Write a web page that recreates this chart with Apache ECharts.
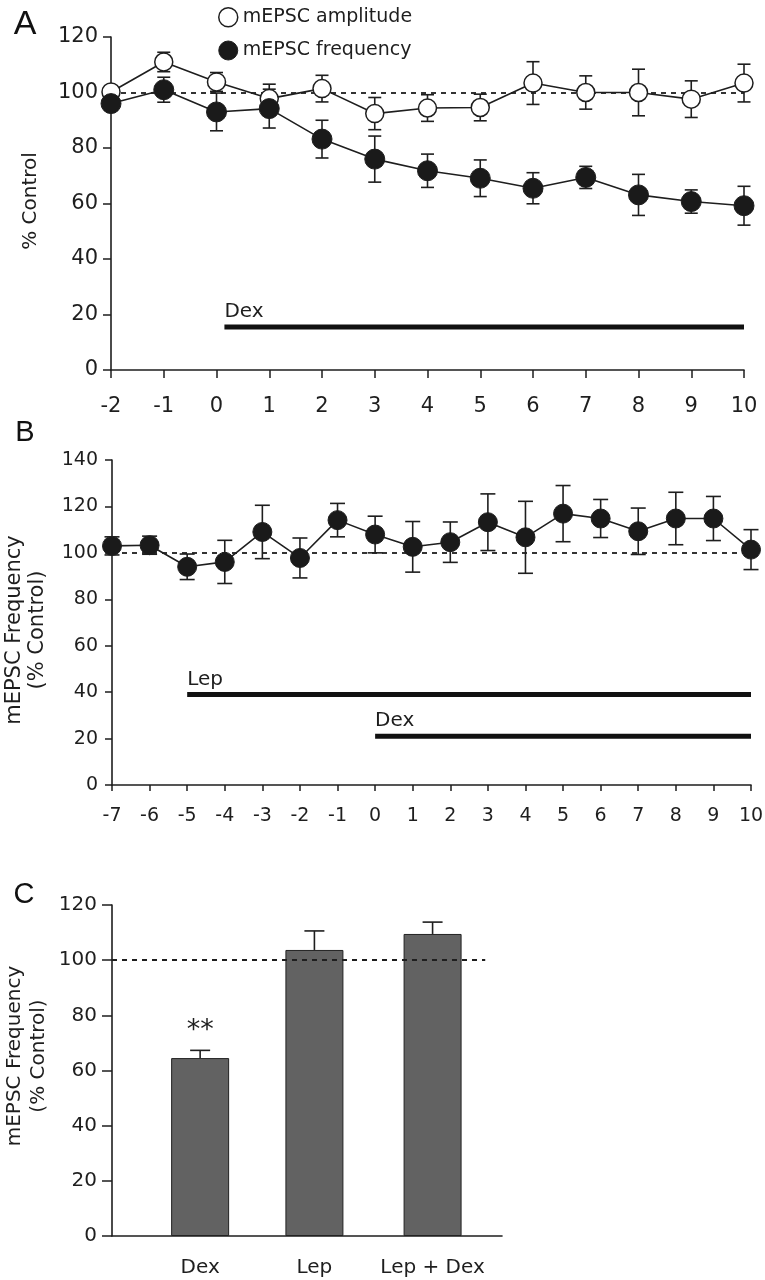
<!DOCTYPE html>
<html>
<head>
<meta charset="utf-8">
<script src="https://cdn.jsdelivr.net/npm/echarts@6/dist/echarts.min.js"></script>
<style>
  html, body { margin: 0; padding: 0; background: #fff; }
  #main { width: 765px; height: 1280px; }
</style>
</head>
<body>
<div id="main"></div>
<script>
// A: mEPSC amplitude / frequency (% control) vs time
const timeA = [-2, -1, 0, 1, 2, 3, 4, 5, 6, 7, 8, 9, 10];
const ampMean = [100.2, 111, 103.8, 97.8, 101.4, 92.4, 94.4, 94.6, 103.4, 100, 100, 97.6, 103.4];
const ampErr = [1, 3.5, 3.4, 5.2, 4.8, 5.8, 4.8, 4.8, 7.7, 6, 8.4, 6.6, 6.8];
const freqMean = [96, 101, 93, 94.2, 83.2, 76, 71.8, 69.1, 65.5, 69.4, 63.1, 60.7, 59.2];
const freqErr = [1, 4.5, 6.8, 7, 6.8, 8.3, 6, 6.6, 5.6, 4, 7.4, 4.2, 7];
const treatA = [{ name: 'Dex', start: 0.15, end: 10, level: 15.5 }];

// B: mEPSC frequency with leptin then dex
const timeB = [-7, -6, -5, -4, -3, -2, -1, 0, 1, 2, 3, 4, 5, 6, 7, 8, 9, 10];
const freqBMean = [103, 103.3, 94, 96.1, 109, 97.8, 114.1, 107.9, 102.6, 104.6, 113.2, 106.7, 116.9, 114.8, 109.3, 114.8, 114.8, 101.4];
const freqBErr = [3.9, 3.9, 5.5, 9.3, 11.5, 8.6, 7.2, 7.9, 10.9, 8.7, 12.2, 15.5, 12.1, 8.2, 10, 11.3, 9.5, 8.6];
const treatB = [
  { name: 'Lep', start: -5, end: 10, level: 39 },
  { name: 'Dex', start: 0, end: 10, level: 21 }
];

// C: summary bars
const groupsC = ['Dex', 'Lep', 'Lep + Dex'];
const groupPos = [2.26, 5.19, 8.22];
const barMean = [64.5, 103.7, 109.5];
const barErr = [2.8, 6.9, 4.3];
const sigMarks = ['**', '', ''];

const FONT = 'DejaVu Sans';
const INK = '#1e1e1e';

// 误差线
function errRender(capW, upOnly) {
  return function (params, api) {
    const x = api.value(0), y = api.value(1), e = api.value(2);
    const top = api.coord([x, y + e]);
    const bot = api.coord([x, upOnly ? y : y - e]);
    const style = { stroke: INK, lineWidth: 1.6 };
    const kids = [
      { type: 'line', shape: { x1: top[0], y1: top[1], x2: bot[0], y2: bot[1] }, style },
      { type: 'line', shape: { x1: top[0] - capW / 2, y1: top[1], x2: top[0] + capW / 2, y2: top[1] }, style }
    ];
    if (!upOnly) {
      kids.push({ type: 'line', shape: { x1: bot[0] - capW / 2, y1: bot[1], x2: bot[0] + capW / 2, y2: bot[1] }, style });
    }
    return { type: 'group', children: kids };
  };
}

// 给药时段横条
function treatRender(list) {
  return function (params, api) {
    const t = list[params.dataIndex];
    const p0 = api.coord([t.start, t.level]);
    const p1 = api.coord([t.end, t.level]);
    return {
      type: 'group', children: [
        { type: 'line', shape: { x1: p0[0], y1: p0[1], x2: p1[0], y2: p1[1] }, style: { stroke: '#111', lineWidth: 5 } },
        { type: 'text', x: p0[0], y: p0[1] - 5, style: { text: t.name, fontFamily: FONT, fontSize: 20, fill: INK, align: 'left', verticalAlign: 'bottom' } }
      ]
    };
  };
}

function xAx(gridIndex, min, max, fontSize, margin, tickLen) {
  return {
    gridIndex, type: 'value', min, max, interval: 1,
    axisLine: { show: true, onZero: false, lineStyle: { color: INK, width: 1.6 } },
    axisTick: { show: true, length: tickLen, lineStyle: { color: INK, width: 1.5 } },
    splitLine: { show: false },
    axisLabel: { fontFamily: FONT, fontSize, color: INK, margin }
  };
}
function yAx(gridIndex, max, fontSize, margin, tickLen) {
  return {
    gridIndex, type: 'value', min: 0, max, interval: 20,
    axisLine: { show: true, onZero: false, lineStyle: { color: INK, width: 1.6 } },
    axisTick: { show: true, length: tickLen, lineStyle: { color: INK, width: 1.5 } },
    splitLine: { show: false },
    axisLabel: { fontFamily: FONT, fontSize, color: INK, margin }
  };
}

const dashed = { color: INK, width: 1.8, type: [5, 5] };

const chart = echarts.init(document.getElementById('main'), null, { renderer: 'canvas' });
chart.setOption({
  backgroundColor: '#fff',
  animation: false,
  grid: [
    { left: 111, top: 37, width: 633, height: 333, containLabel: false, outerBoundsMode: 'none' },
    { left: 112, top: 460, width: 639, height: 325, containLabel: false, outerBoundsMode: 'none' },
    { left: 112, top: 905, width: 390, height: 331, containLabel: false, outerBoundsMode: 'none' }
  ],
  xAxis: [
    xAx(0, -2, 10, 21, 26, 8),
    xAx(1, -7, 10, 19, 22, 6),
    {
      gridIndex: 2, type: 'value', min: 0, max: 10,
      axisLine: { show: true, onZero: false, lineStyle: { color: INK, width: 1.6 } },
      axisTick: { show: false },
      splitLine: { show: false },
      axisLabel: {
        fontFamily: FONT, fontSize: 20, color: INK, margin: 22,
        customValues: groupPos,
        formatter: v => groupsC[groupPos.indexOf(v)] || ''
      }
    }
  ],
  yAxis: [
    yAx(0, 120, 21, 13, 8),
    yAx(1, 140, 19, 14, 7),
    yAx(2, 120, 20, 15, 10)
  ],
  legend: {
    orient: 'vertical', left: 213, top: 2,
    itemWidth: 19, itemHeight: 19, itemGap: 13, icon: 'circle',
    selectedMode: false,
    textStyle: { fontFamily: FONT, fontSize: 19, color: INK },
    data: [
      { name: 'mEPSC amplitude', itemStyle: { color: '#fff', borderColor: INK, borderWidth: 1.5 } },
      { name: 'mEPSC frequency', itemStyle: { color: '#1a1a1a', borderColor: INK, borderWidth: 1 } }
    ]
  },
  graphic: [
    { type: 'text', x: 25, y: 25, style: { text: 'A', fontFamily: 'Liberation Sans', fontSize: 34, fill: '#111', align: 'center', verticalAlign: 'middle' } },
    { type: 'text', x: 25, y: 433, style: { text: 'B', fontFamily: 'Liberation Sans', fontSize: 29, fill: '#111', align: 'center', verticalAlign: 'middle' } },
    { type: 'text', x: 24, y: 895, style: { text: 'C', fontFamily: 'Liberation Sans', fontSize: 29, fill: '#111', align: 'center', verticalAlign: 'middle' } },
    { type: 'text', x: 31, y: 201, rotation: Math.PI / 2, style: { text: '% Control', fontFamily: FONT, fontSize: 20, fill: INK, align: 'center', verticalAlign: 'middle' } },
    { type: 'text', x: 26, y: 630, rotation: Math.PI / 2, style: { text: 'mEPSC Frequency\n(% Control)', fontFamily: FONT, fontSize: 21, lineHeight: 23, fill: INK, align: 'center', verticalAlign: 'middle' } },
    { type: 'text', x: 27, y: 1056, rotation: Math.PI / 2, style: { text: 'mEPSC Frequency\n(% Control)', fontFamily: FONT, fontSize: 20, lineHeight: 24, fill: INK, align: 'center', verticalAlign: 'middle' } }
  ],
  series: [
    // --- A ---
    {
      type: 'custom', xAxisIndex: 0, yAxisIndex: 0, z: 2, silent: true, clip: false,
      renderItem: errRender(13, false),
      data: timeA.map((t, i) => [t, ampMean[i], ampErr[i]])
    },
    {
      type: 'custom', xAxisIndex: 0, yAxisIndex: 0, z: 2, silent: true, clip: false,
      renderItem: errRender(13, false),
      data: timeA.map((t, i) => [t, freqMean[i], freqErr[i]])
    },
    {
      name: 'mEPSC amplitude', type: 'line', xAxisIndex: 0, yAxisIndex: 0, z: 3,
      symbol: 'circle', symbolSize: 18,
      itemStyle: { color: '#fff', borderColor: INK, borderWidth: 1.5 },
      lineStyle: { color: INK, width: 1.6 },
      data: timeA.map((t, i) => [t, ampMean[i]]),
      markLine: { silent: true, symbol: 'none', z: 1, label: { show: false }, lineStyle: dashed, data: [{ yAxis: 100 }] }
    },
    {
      name: 'mEPSC frequency', type: 'line', xAxisIndex: 0, yAxisIndex: 0, z: 4,
      symbol: 'circle', symbolSize: 20,
      itemStyle: { color: '#1a1a1a', borderColor: INK, borderWidth: 1 },
      lineStyle: { color: INK, width: 1.6 },
      data: timeA.map((t, i) => [t, freqMean[i]])
    },
    {
      type: 'custom', xAxisIndex: 0, yAxisIndex: 0, z: 2, silent: true, clip: false,
      renderItem: treatRender(treatA),
      data: treatA.map(t => [t.start, t.end, t.level])
    },
    // --- B ---
    {
      type: 'custom', xAxisIndex: 1, yAxisIndex: 1, z: 2, silent: true, clip: false,
      renderItem: errRender(15, false),
      data: timeB.map((t, i) => [t, freqBMean[i], freqBErr[i]])
    },
    {
      name: 'freqB', type: 'line', xAxisIndex: 1, yAxisIndex: 1, z: 4,
      symbol: 'circle', symbolSize: 19,
      itemStyle: { color: '#1a1a1a', borderColor: INK, borderWidth: 1 },
      lineStyle: { color: INK, width: 1.6 },
      data: timeB.map((t, i) => [t, freqBMean[i]]),
      markLine: { silent: true, symbol: 'none', z: 1, label: { show: false }, lineStyle: dashed, data: [{ yAxis: 100 }] }
    },
    {
      type: 'custom', xAxisIndex: 1, yAxisIndex: 1, z: 2, silent: true, clip: false,
      renderItem: treatRender(treatB),
      data: treatB.map(t => [t.start, t.end, t.level])
    },
    // --- C ---
    {
      name: 'barsC', type: 'bar', xAxisIndex: 2, yAxisIndex: 2, z: 2, barWidth: 58,
      itemStyle: { color: '#626262', borderColor: '#222', borderWidth: 1 },
      data: groupPos.map((p, i) => ({
        value: [p, barMean[i]],
        label: {
          show: sigMarks[i] !== '', formatter: sigMarks[i], position: 'top', distance: 14,
          fontFamily: FONT, fontSize: 27, color: INK
        }
      })),
      markLine: {
        silent: true, symbol: 'none', z: 5, label: { show: false }, lineStyle: dashed,
        data: [[{ coord: [0, 100] }, { coord: [9.57, 100] }]]
      }
    },
    {
      type: 'custom', xAxisIndex: 2, yAxisIndex: 2, z: 3, silent: true, clip: false,
      renderItem: errRender(20, true),
      data: groupPos.map((p, i) => [p, barMean[i], barErr[i]])
    }
  ]
});
</script>
</body>
</html>
